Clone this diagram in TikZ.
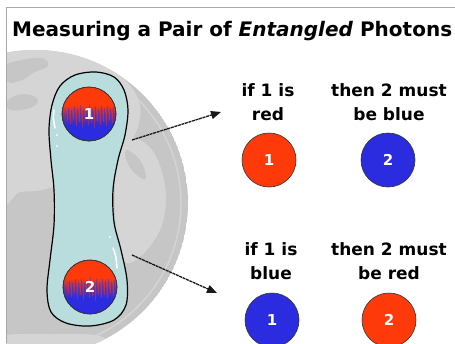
\documentclass[tikz,border=0pt]{standalone}
\usepackage{fontspec}
\setmainfont{DejaVu Sans}
\usetikzlibrary{arrows.meta,calc}

\definecolor{photonred}{HTML}{FF3A0A}
\definecolor{photonblue}{HTML}{2B2BE0}
\definecolor{ocean}{HTML}{C6C6C6}
\definecolor{land}{HTML}{D5D5D5}
\definecolor{shell}{HTML}{B9DCDD}
\definecolor{framegray}{HTML}{A8A8A8}

% red on top, blue underneath, mixing in the middle
\pgfdeclareverticalshading{photonmix}{100bp}{%
  color(0bp)=(photonblue); color(25bp)=(photonblue); color(40bp)=(photonblue);
  color(50bp)=(photonblue!55!photonred); color(58bp)=(photonred);
  color(75bp)=(photonred); color(100bp)=(photonred)}

\tikzset{
  outcome/.style={font=\bfseries\fontsize{17}{24}\selectfont, align=center,
    anchor=base, inner sep=0pt},
  ball/.style={circle, draw=black!80, line width=0.6pt, minimum size=54pt,
    inner sep=0pt, font=\bfseries\fontsize{15}{15}\selectfont, text=white},
  redball/.style={ball, fill=photonred},
  blueball/.style={ball, fill=photonblue},
  pairball/.style={ball, shading=photonmix},
  link/.style={draw=black!90, line width=1.3pt, dash pattern=on 3pt off 0.7pt,
    -{Triangle[length=10pt,width=8pt]}},
  glint/.style={white, line width=1.6pt, line cap=round},
  streak/.style={line width=0.6pt, opacity=0.4},
}

% vertical streaks where the two colours of a photon bleed into each other
\newcommand\photonstreaks[1]{%
  \begin{scope}
    \clip (#1) circle (26.5);
    \foreach \dx/\up/\dn in {-22/4/9, -19/2/12, -16/6/7, -13/3/14, -10/7/10,
        -7/2/15, -4/5/8, -1/8/13, 2/3/11, 5/6/16, 8/2/9, 11/7/13,
        14/4/10, 17/6/14, 20/3/8, 23/5/11} {
      \draw[streak, photonred] ($(#1)+(\dx,-2)$) -- ++(0,\dn);
      \draw[streak, photonblue] ($(#1)+(\dx+1.5,4)$) -- ++(0,-\up-6);
    }
  \end{scope}}

\begin{document}
\begin{tikzpicture}[x=1pt,y=-1pt]
  \useasboundingbox (0,0) rectangle (455,343);
  \fill[white] (0,0) rectangle (455,343);

  % globe, cut off by the frame
  \begin{scope}
    \clip (6,7) rectangle (455,343);
    \clip (35,203) circle (153);
    \fill[ocean] (35,203) circle (153);
    % northern land mass
    \fill[land] plot[smooth cycle, tension=0.6] coordinates {
      (0,52) (30,50) (60,52) (95,62) (125,80) (140,105) (136,132) (122,150)
      (100,162) (70,180) (42,190) (20,192) (0,196)};
    % ocean inlets in the north
    \fill[ocean] plot[smooth cycle, tension=0.7] coordinates {
      (6,66) (22,60) (42,58) (48,66) (35,72) (22,80) (8,82)};
    \fill[ocean] plot[smooth cycle, tension=0.7] coordinates {
      (8,100) (25,94) (38,100) (30,108) (10,110)};
    % eastern land mass
    \fill[land] plot[smooth cycle, tension=0.6] coordinates {
      (118,138) (136,138) (152,150) (162,172) (166,200) (160,230)
      (142,255) (124,262) (116,230) (115,170)};
    \fill[ocean] plot[smooth cycle, tension=0.7] coordinates {
      (126,150) (140,160) (146,178) (138,176) (128,164)};
    % southern strip
    \fill[land] plot[smooth cycle, tension=0.6] coordinates {
      (0,336) (50,334) (100,336) (100,350) (0,350)};
    % rim light
    \draw[land, line width=1.4pt] (35,203) circle (146);
  \end{scope}

  % frame
  \draw[framegray, line width=1pt] (6,343) -- (6,7) -- (455,7);

  % title
  \node (title) [anchor=base west, inner sep=0pt,
    font=\bfseries\fontsize{20}{24}\selectfont] at (12,36)
    {Measuring a Pair of \textit{Entangled} Photons};

  % the entangled pair inside its shared envelope
  \draw[fill=shell, line width=1.2pt] plot[smooth cycle, tension=0.55] coordinates {
    (96,72) (114,77) (124,90) (128,110) (125,135) (118,160) (113,190)
    (114,222) (121,250) (127,280) (126,305) (114,320) (90,326)
    (66,323) (51,312) (47,290) (50,260) (54,225) (54,190) (51,160)
    (49,130) (52,105) (60,86) (75,75)};
  \draw[glint] (54,110) .. controls (53,118) .. (55,128);
  \fill[white] (57,135) circle (1.2);
  \fill[white] (57,146) circle (1);
  \draw[glint] (113,248) .. controls (116,256) .. (117,268);
  \fill[white] (110,237) circle (1);

  \node (p1) [pairball] at (89,114) {};
  \node (p2) [pairball] at (90,287) {};
  \photonstreaks{p1.center}
  \photonstreaks{p2.center}
  \draw[black!80, line width=0.6pt] (p1) circle (27);
  \draw[black!80, line width=0.6pt] (p2) circle (27);
  \node (n1) [ball, draw=none] at (p1) {1};
  \node (n2) [ball, draw=none] at (p2) {2};

  % measurement directions
  \coordinate (from1) at (132,140);
  \coordinate (to1) at (221,112);
  \coordinate (from2) at (132,255);
  \coordinate (to2) at (217,293);
  \draw[link] (from1) -- (to1);
  \draw[link] (from2) -- (to2);

  % first outcome
  \node (if1) [outcome] at (268,120) {if 1 is\\red};
  \node (then1) [outcome] at (389,120) {then 2 must\\be blue};
  \node (a1) [redball] at (269,160) {1};
  \node (b1) [blueball] at (388,160) {2};

  % second outcome
  \node (if2) [outcome] at (271,279) {if 1 is\\blue};
  \node (then2) [outcome] at (389,279) {then 2 must\\be red};
  \node (a2) [blueball] at (272,320) {1};
  \node (b2) [redball] at (389,320) {2};
\end{tikzpicture}
\end{document}
